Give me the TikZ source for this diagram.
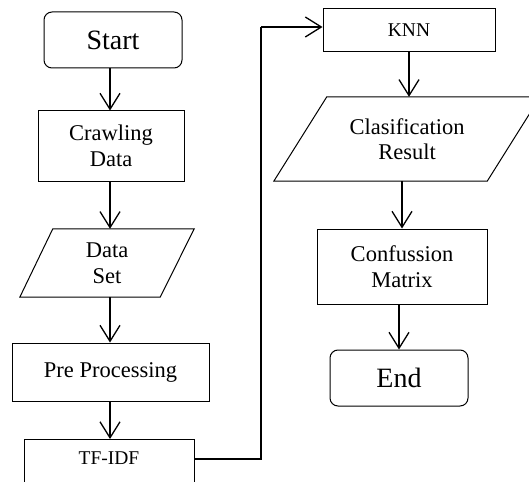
\documentclass[tikz,border=0pt]{standalone}
\usepackage{fontspec}
\setmainfont{Liberation Serif}
\usetikzlibrary{arrows.meta,calc}
\begin{document}
\begin{tikzpicture}[x=1pt,y=1pt,
  box/.style={draw,line width=1pt,align=center,inner sep=0pt,font=\fontsize{22.5}{25.5}\selectfont},
  term/.style={box,rounded corners=8pt,font=\fontsize{28}{30}\selectfont},
  plain/.style={align=center,inner sep=0pt,font=\fontsize{22.5}{25.5}\selectfont},
  arr/.style={line width=1.4pt,-{Straight Barb[length=16pt,width=20pt,line width=1.3pt]}}]
\useasboundingbox (0,0) rectangle (529,-481);
\clip (0,0) rectangle (529,-481);
% left column
\node[term,minimum width=138pt,minimum height=56pt] (start) at (113,-40) {Start};
\node[box,minimum width=146pt,minimum height=70pt] (crawl) at (111,-146) {Crawling\\Data};
\node[plain,minimum width=174pt,minimum height=68pt] (ds) at (107,-263) {Data\\Set};
\draw[line width=1pt] ($(ds.north west)+(33,0)$) -- (ds.north east) -- ($(ds.south east)+(-34,0)$) -- (ds.south west) -- cycle;
\node[box,minimum width=197pt,minimum height=58pt] (pre) at (110.5,-372) {Pre Processing};
\node[box,anchor=north,minimum width=170pt,text height=25pt,text depth=28pt,font=\fontsize{19.5}{22}\selectfont] (tfidf) at (109,-439) {TF-IDF};
% right column
\node[box,minimum width=172pt,minimum height=43pt,font=\fontsize{19.5}{22}\selectfont] (knn) at (409,-30.5) {KNN};
\node[plain,minimum width=266pt,minimum height=84pt] (clas) at (407,-139) {Clasification\\Result};
\draw[line width=1pt] ($(clas.north west)+(53,0)$) -- (clas.north east) -- ($(clas.south east)+(-53,0)$) -- (clas.south west) -- cycle;
\node[box,minimum width=170pt,minimum height=75pt] (conf) at (402,-266.5) {Confussion\\Matrix};
\node[term,minimum width=138pt,minimum height=56pt] (end) at (399,-378) {End};
% connectors
\coordinate (lx) at (110,0);
\draw[arr] (start.south -| lx) -- (crawl.north -| lx);
\draw[arr] (crawl.south -| lx) -- (ds.north -| lx);
\draw[arr] (ds.south -| lx) -- (pre.north -| lx);
\draw[arr] (pre.south -| lx) -- (tfidf.north -| lx);
\coordinate (elbow) at (261,-27);
\draw[line width=1.4pt] ([yshift=-20pt]tfidf.north east) -| (elbow);
\draw[arr] (elbow) -- (elbow -| knn.west);
\draw[arr] (knn.south) -- (knn.south |- clas.north);
\draw[arr] (clas.south -| conf.north) -- (conf.north);
\draw[arr] (conf.south -| end.north) -- (end.north);
\end{tikzpicture}
\end{document}
